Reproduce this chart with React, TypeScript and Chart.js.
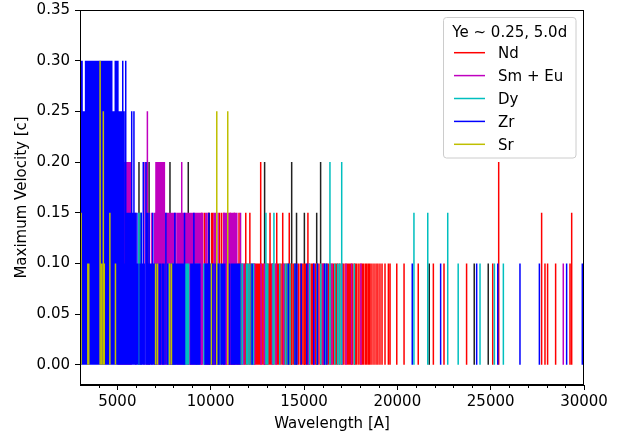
import React, { useEffect, useRef } from "react";
import { Chart, registerables } from "chart.js";

Chart.register(...registerables);

// ---- data: wavelength [A] of each line, grouped by maximum velocity [c] ----
const ND_020 = [12680, 25430];
const ND_015 = [9520, 9660, 9880, 10055, 10125, 10480, 10590, 10715, 11050, 11270, 11520, 11880, 12100, 13180, 13540, 13860, 14210, 15210, 27730, 29340];
const ND_010 = [8900, 9250, 9800, 10200, 10700, 10850, 10950, 11100, 11200, 11450, 11600, 11650, 11800, 11850, 11950, 12050, 12150, 12300, 12380, 12420, 12460, 12520, 12560, 12600, 12680, 12760, 12850, 12960, 13000, 13050, 13120, 13200, 13280, 13350, 13450, 13550, 13600, 13650, 13760, 13850, 13950, 14050, 14150, 14300, 14350, 14450, 14550, 14700, 14800, 14900, 15000, 15050, 15100, 15200, 15300, 15400, 15480, 15620, 15700, 15800, 15900, 16000, 16080, 16200, 16300, 16400, 16450, 16550, 16600, 16700, 16750, 16800, 16900, 17000, 17100, 17200, 17300, 17380, 17450, 17520, 17600, 17700, 17750, 17800, 17900, 18000, 18100, 18150, 18200, 18300, 18350, 18440, 18480, 18540, 18640, 18750, 18860, 18960, 19070, 19180, 19340, 19520, 19610, 19970, 20360, 21120, 21930, 22500, 23710, 25110, 27910, 28050, 28480, 29250];

const SM_025 = [6610];
const SM_020 = [5040, 5080, 5110, 5150, 5190, 5230, 5280, 5320, 5370, 5410, 5460, 5510, 5560, 5610, 5660, 5700, 5740, 6430, 6560, 7070, 7100, 7140, 7180, 7210, 7250, 7290, 7330, 7370, 7410, 7450, 7490, 7520, 8450];
const SM_015 = [5990, 6280, 6720, 6850, 7000, 7620, 7700, 7760, 7830, 7900, 7980, 8060, 8140, 8230, 8310, 8390, 8470, 8540, 8620, 8700, 8780, 8850, 8920, 9000, 9080, 9160, 9240, 9320, 9400, 9480, 9560, 9740, 9800, 10200, 10260, 10400, 10700, 10780, 10850, 10920, 11000, 11080, 11160, 11240, 11320, 11400, 11600];
const SM_010 = [8500, 8880, 8960, 9040, 9700, 9760, 9840, 10160, 10280, 10800, 10880, 11020, 11360, 11700, 11780, 12350, 12700, 12880, 13300, 13500, 13900, 15250, 15550, 16020, 16500, 17050, 17250, 17550, 18050, 28890];

const DY_020 = [16390, 17020];
const DY_015 = [6150, 6250, 12960, 13390, 20890, 21630, 22700];
const DY_010 = [7760, 7980, 8080, 8560, 8600, 8650, 8700, 8760, 8820, 9230, 9330, 9640, 9680, 10400, 10500, 11600, 11700, 11920, 12000, 12100, 12200, 12260, 12290, 13000, 13060, 13340, 13700, 14000, 14100, 14250, 14500, 15300, 15700, 15900, 16150, 16400, 16650, 16800, 16900, 17000, 17700, 23260, 24430, 25200, 25680];

const ZR_030 = [3020, 3060, 3110, 3300, 3350, 3400, 3450, 3500, 3550, 3600, 3650, 3700, 3750, 3800, 3850, 3900, 3950, 4000, 4050, 4120, 4170, 4250, 4300, 4350, 4400, 4450, 4500, 4550, 4600, 4650, 4700, 4890, 4960, 5030, 5290, 5450];
const ZR_025 = [3160, 3230, 4760, 4820, 5100, 5160, 5230, 5360, 5770, 5890];
const ZR_020 = [5060, 6390, 6530];
const ZR_015 = [5200, 5300, 5480, 5560, 5640, 5720, 5840, 5960, 6050, 6280, 6600, 6700, 6900, 7600, 8080, 8600, 9100, 9900];
const ZR_010 = [4940, 5130, 5400, 5520, 5600, 5680, 5800, 5920, 6000, 6100, 6220, 6340, 6440, 6540, 6650, 6760, 6840, 6960, 7040, 7120, 7240, 7320, 7420, 7500, 7700, 7880, 7960, 8040, 8120, 8160, 8200, 8260, 8300, 8360, 8400, 8460, 8520, 8940, 9000, 9060, 9120, 9200, 9280, 9360, 9420, 9700, 9780, 9860, 9940, 10000, 10060, 10120, 10240, 10360, 10440, 10560, 10620, 10680, 10760, 11000, 11100, 11180, 11240, 11320, 11400, 11480, 11560, 12220, 14160, 14520, 14620, 14850, 15150, 15520, 15720, 16100, 16230, 20800, 22320, 24250, 25380, 26570, 27610, 29070, 29910];

const SR_030 = [4077];
const SR_025 = [4250, 10327, 10915];
const SR_015 = [3060, 4600];
const SR_010 = [3420, 3470, 4160, 4300, 4900, 7050, 7150, 7800, 7900, 10037];

const OTHER_020 = [6160, 6700, 7820, 8800, 12890, 14340, 15890];
const OTHER_015 = [9930, 14600, 15020, 15680];
const OTHER_010 = [21710, 24120, 24870];

const X_TICKS = [5000, 10000, 15000, 20000, 25000, 30000];
const X_MINOR = [4000, 6000, 7000, 8000, 9000, 11000, 12000, 13000, 14000, 16000, 17000, 18000, 19000, 21000, 22000, 23000, 24000, 26000, 27000, 28000, 29000];
const Y_TICKS = [0, 0.05, 0.1, 0.15, 0.2, 0.25, 0.3, 0.35];

const LEGEND_TITLE = "Ye ~ 0.25, 5.0d";
const FONT = "DejaVu Sans";

type Group = [number[], number];

function segments(groups: Group[]) {
  const pts: { x: number; y: number | null }[] = [];
  for (const [waves, v] of groups) {
    for (const w of waves) {
      pts.push({ x: w, y: 0 }, { x: w, y: v }, { x: w, y: null });
    }
  }
  return pts;
}

const SERIES = [
  { label: "Nd", color: "#ff0000", order: 4, groups: [[ND_020, 0.2], [ND_015, 0.15], [ND_010, 0.1]] as Group[] },
  { label: "Sm + Eu", color: "#bf00bf", order: 3, groups: [[SM_025, 0.25], [SM_020, 0.2], [SM_015, 0.15], [SM_010, 0.1]] as Group[] },
  { label: "Dy", color: "#00bfbf", order: 2, groups: [[DY_020, 0.2], [DY_015, 0.15], [DY_010, 0.1]] as Group[] },
  { label: "Zr", color: "#0000ff", order: 1, groups: [[ZR_030, 0.3], [ZR_025, 0.25], [ZR_020, 0.2], [ZR_015, 0.15], [ZR_010, 0.1]] as Group[] },
  { label: "Sr", color: "#bfbf00", order: 0, groups: [[SR_030, 0.3], [SR_025, 0.25], [SR_015, 0.15], [SR_010, 0.1]] as Group[] },
];
const OTHER = { label: "", color: "#222222", order: 5, groups: [[OTHER_020, 0.2], [OTHER_015, 0.15], [OTHER_010, 0.1]] as Group[] };

const framePlugin = {
  id: "frameAndLegend",
  afterDraw(chart: any) {
    const { ctx, chartArea } = chart;
    const xs = chart.scales.x;
    ctx.save();
    ctx.strokeStyle = "#000";
    ctx.lineWidth = 1;
    for (const v of X_MINOR) {
      const px = Math.round(xs.getPixelForValue(v)) + 0.5;
      ctx.beginPath();
      ctx.moveTo(px, chartArea.bottom);
      ctx.lineTo(px, chartArea.bottom + 3);
      ctx.stroke();
    }
    ctx.strokeRect(chartArea.left + 0.5, chartArea.top + 0.5, chartArea.right - chartArea.left - 1, chartArea.bottom - chartArea.top - 1);

    const bx = 443.5, by = 17.5, bw = 132.5, bh = 140.5, r = 3;
    ctx.beginPath();
    ctx.moveTo(bx + r, by);
    ctx.lineTo(bx + bw - r, by);
    ctx.quadraticCurveTo(bx + bw, by, bx + bw, by + r);
    ctx.lineTo(bx + bw, by + bh - r);
    ctx.quadraticCurveTo(bx + bw, by + bh, bx + bw - r, by + bh);
    ctx.lineTo(bx + r, by + bh);
    ctx.quadraticCurveTo(bx, by + bh, bx, by + bh - r);
    ctx.lineTo(bx, by + r);
    ctx.quadraticCurveTo(bx, by, bx + r, by);
    ctx.closePath();
    ctx.fillStyle = "rgba(255,255,255,0.8)";
    ctx.fill();
    ctx.strokeStyle = "#cccccc";
    ctx.lineWidth = 1;
    ctx.stroke();

    ctx.font = `15px "${FONT}"`;
    ctx.fillStyle = "#000";
    ctx.textAlign = "center";
    ctx.textBaseline = "alphabetic";
    ctx.fillText(LEGEND_TITLE, bx + bw / 2, 36.5);
    ctx.textAlign = "left";
    SERIES.forEach((s, i) => {
      const base = 58.3 + i * 22.9;
      ctx.strokeStyle = s.color;
      ctx.lineWidth = 1.5;
      ctx.beginPath();
      ctx.moveTo(454, base - 5.6);
      ctx.lineTo(485, base - 5.6);
      ctx.stroke();
      ctx.fillStyle = "#000";
      ctx.fillText(s.label, 498, base);
    });
    ctx.restore();
  },
};

export default function App() {
  const ref = useRef<HTMLCanvasElement | null>(null);
  useEffect(() => {
    if (!ref.current) return;
    const all = [OTHER, ...SERIES];
    const chart = new Chart(ref.current, {
      type: "line",
      data: {
        datasets: all.map((s) => ({
          label: s.label,
          data: segments(s.groups),
          borderColor: s.color,
          backgroundColor: s.color,
          borderWidth: 1.5,
          pointRadius: 0,
          fill: false,
          tension: 0,
          spanGaps: false,
          order: s.order,
        })),
      } as any,
      options: {
        animation: false,
        responsive: false,
        events: [],
        layout: { padding: { top: 10, right: 49, left: 0, bottom: 0 } },
        plugins: { legend: { display: false }, tooltip: { enabled: false } },
        scales: {
          x: {
            type: "linear",
            min: 3000,
            max: 30000,
            afterBuildTicks: (scale: any) => {
              scale.ticks = X_TICKS.map((v) => ({ value: v }));
            },
            afterFit: (scale: any) => {
              scale.height = 53;
              scale.paddingLeft = 0;
              scale.paddingRight = 0;
            },
            ticks: {
              autoSkip: false,
              maxRotation: 0,
              padding: 3,
              color: "#000",
              font: { family: FONT, size: 15 },
              callback: (v: any) => String(v),
            },
            grid: { drawOnChartArea: false, drawTicks: true, tickLength: 5, color: "#000" },
            border: { display: true, color: "#000", width: 1 },
            title: {
              display: true,
              text: "Wavelength [A]",
              color: "#000",
              font: { family: FONT, size: 15 },
              padding: { top: 0, bottom: 5 },
            },
          },
          y: {
            type: "linear",
            min: -0.02,
            max: 0.35,
            afterBuildTicks: (scale: any) => {
              scale.ticks = Y_TICKS.map((v) => ({ value: v }));
            },
            afterFit: (scale: any) => {
              scale.width = 80;
              scale.paddingTop = 0;
              scale.paddingBottom = 0;
            },
            ticks: {
              autoSkip: false,
              padding: 5,
              color: "#000",
              font: { family: FONT, size: 15 },
              callback: (v: any) => Number(v).toFixed(2),
            },
            grid: { drawOnChartArea: false, drawTicks: true, tickLength: 5, color: "#000" },
            border: { display: true, color: "#000", width: 1 },
            title: {
              display: true,
              text: "Maximum Velocity [c]",
              color: "#000",
              font: { family: FONT, size: 15 },
              padding: { top: 13.5, bottom: 0 },
            },
          },
        },
      },
      plugins: [framePlugin],
    } as any);
    return () => chart.destroy();
  }, []);
  return (
    <div style={{ position: "fixed", left: 0, top: 0, width: 633, height: 438, background: "#fff" }}>
      <canvas ref={ref} width={633} height={438} style={{ width: 633, height: 438, display: "block" }} />
    </div>
  );
}
